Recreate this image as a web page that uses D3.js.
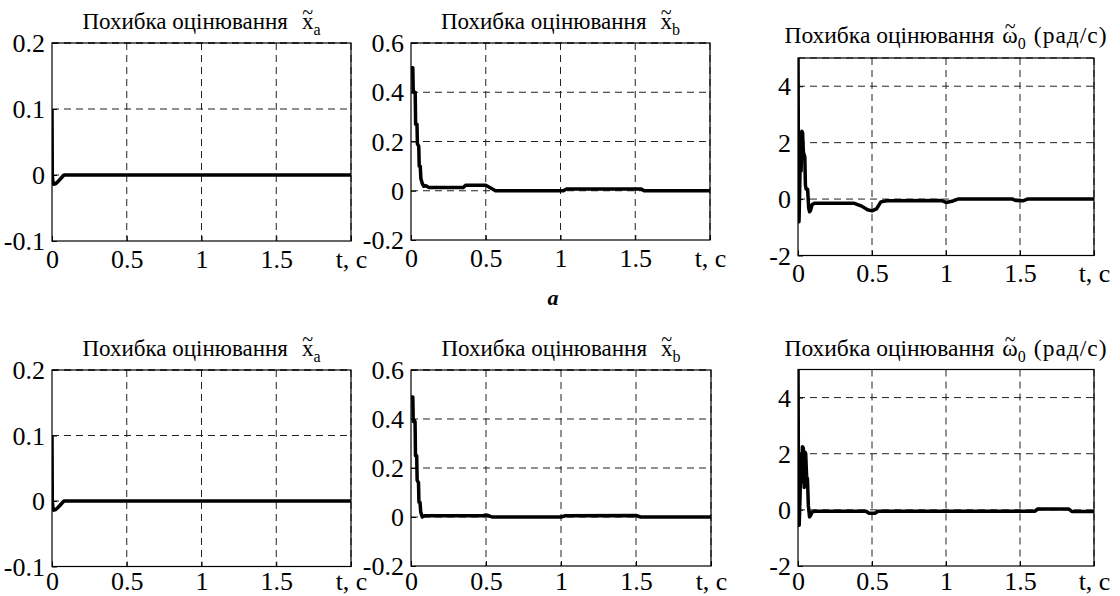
<!DOCTYPE html>
<html><head><meta charset="utf-8">
<script src="https://cdn.jsdelivr.net/npm/d3@7/dist/d3.min.js"></script>
<style>
html,body{margin:0;padding:0;background:#fff;}
svg{display:block;}
</style></head>
<body>
<svg id="c" width="1120" height="596"></svg>
<script>
// ---- data ----
const xTicks = [0, 0.5, 1, 1.5, 2];
const xTickLabels = ["0", "0.5", "1", "1.5", "t, c"];
const yTicksXa = [-0.1, 0, 0.1, 0.2];
const yTicksXb = [-0.2, 0, 0.2, 0.4, 0.6];
const yTicksW = [-2, 0, 2, 4];

// row a: x_a error
const tXa1 = [0, 0.002, 0.006, 0.012, 0.025, 0.04, 0.06, 0.08, 2];
const eXa1 = [0.1, 0.0, -0.01, -0.014, -0.013, -0.01, -0.005, 0, 0];
// row b: x_a error
const tXa2 = [0, 0.002, 0.006, 0.012, 0.025, 0.04, 0.06, 0.08, 2];
const eXa2 = [0.1, 0.0, -0.01, -0.014, -0.013, -0.01, -0.005, 0, 0];

// row a: x_b error
const tXb1 = [0, 0.012, 0.015, 0.028, 0.031, 0.04, 0.043, 0.052, 0.055, 0.062, 0.066, 0.075, 0.085, 0.1, 0.12, 0.35, 0.365, 0.5, 0.53, 0.565, 1.02, 1.04, 1.54, 1.56, 2];
const eXb1 = [0.5, 0.5, 0.4, 0.4, 0.27, 0.27, 0.19, 0.18, 0.1, 0.1, 0.05, 0.03, 0.018, 0.02, 0.013, 0.013, 0.022, 0.022, 0.012, 0, 0, 0.007, 0.007, 0, 0];
// row b: x_b error
const tXb2 = [0, 0.012, 0.015, 0.027, 0.03, 0.038, 0.041, 0.05, 0.053, 0.06, 0.065, 0.075, 0.09, 0.48, 0.5, 0.52, 0.54, 1.0, 1.03, 1.5, 1.53, 2];
const eXb2 = [0.49, 0.49, 0.39, 0.39, 0.25, 0.25, 0.15, 0.14, 0.06, 0.06, 0.02, 0.0, 0.005, 0.005, 0.008, 0.005, 0, 0, 0.005, 0.006, 0, 0];

// row a: omega_0 error
const tW1 = [0, 0.003, 0.007, 0.012, 0.017, 0.021, 0.026, 0.031, 0.036, 0.04, 0.046, 0.05, 0.055, 0.065, 0.072, 0.078, 0.085, 0.095, 0.11, 0.38, 0.43, 0.47, 0.5, 0.53, 0.56, 0.6, 0.97, 1.0, 1.04, 1.08, 1.45, 1.47, 1.52, 1.55, 2];
const eW1 = [5.5, 1.0, -0.8, 0.5, 2.2, 1.0, 2.4, 2.35, 1.7, 1.6, 1.5, 0.5, 0.35, 0.35, -0.3, -0.45, -0.4, -0.2, -0.15, -0.15, -0.25, -0.38, -0.42, -0.35, -0.1, -0.06, -0.05, -0.12, -0.08, 0, 0, -0.05, -0.06, 0, 0];
// row b: omega_0 error
const tW2 = [0, 0.003, 0.008, 0.014, 0.02, 0.025, 0.03, 0.036, 0.042, 0.048, 0.052, 0.058, 0.064, 0.07, 0.078, 0.085, 0.095, 0.11, 0.46, 0.48, 0.52, 0.54, 1.6, 1.62, 1.83, 1.85, 2];
const eW2 = [5.5, 1.0, -0.55, 0.5, 2.0, 1.0, 2.25, 2.2, 0.8, 2.05, 2.0, 1.2, 1.1, 0.15, -0.25, -0.2, -0.08, -0.05, -0.05, -0.12, -0.12, -0.05, -0.05, 0.03, 0.03, -0.06, -0.06];

const titleMain = "Похибка оцінювання";
const sigX = "x", sigW = "ω";
const tildeMark = "~";
const subA = "a", subB = "b", sub0 = "0";
const unitW = "(рад/с)";
const rowLabel = "a";

// ---- layout ----
const FONT = "Liberation Serif";
const panels = [
  {x0:52, x1:351, y0:43, y1:241, dom:[-0.1,0.2], yt:yTicksXa, t:tXa1, v:eXa1, sym:sigX, sub:subA, unit:"", titleY:29, gap:14, tf:23, lab:27},
  {x0:411, x1:710, y0:43, y1:240, dom:[-0.2,0.6], yt:yTicksXb, t:tXb1, v:eXb1, sym:sigX, sub:subB, unit:"", titleY:29, gap:14, tf:23, lab:27},
  {x0:798, x1:1094, y0:58, y1:255.5, dom:[-2,5], yt:yTicksW, t:tW1, v:eW1, sym:sigW, sub:sub0, unit:unitW, titleY:43, gap:8, tf:23.5, lab:26},
  {x0:52, x1:351, y0:370, y1:566.5, dom:[-0.1,0.2], yt:yTicksXa, t:tXa2, v:eXa2, sym:sigX, sub:subA, unit:"", titleY:356, gap:14, tf:23, lab:23},
  {x0:411, x1:711, y0:370, y1:566, dom:[-0.2,0.6], yt:yTicksXb, t:tXb2, v:eXb2, sym:sigX, sub:subB, unit:"", titleY:356, gap:14, tf:23, lab:23.5},
  {x0:798, x1:1094, y0:369.5, y1:566, dom:[-2,5], yt:yTicksW, t:tW2, v:eW2, sym:sigW, sub:sub0, unit:unitW, titleY:356, gap:8, tf:23.5, lab:23.5}
];

const svg = d3.select("#c").attr("font-family", FONT);
const tickFont = 26;

function measure(str, size) {
  const t = svg.append("text").attr("font-size", size).text(str);
  const w = t.node().getComputedTextLength();
  t.remove();
  return w;
}

panels.forEach((p, i) => {
  const x = d3.scaleLinear().domain([0, 2]).range([p.x0, p.x1]);
  const y = d3.scaleLinear().domain(p.dom).range([p.y1, p.y0]);
  const g = svg.append("g");

  const cid = "clip" + i;
  svg.append("clipPath").attr("id", cid).append("rect")
    .attr("x", p.x0).attr("y", p.y0).attr("width", p.x1 - p.x0).attr("height", p.y1 - p.y0);

  // grid
  const grid = g.append("g").attr("stroke", "#222").attr("stroke-width", 1).attr("stroke-dasharray", "7,5");
  grid.selectAll(".gx").data(xTicks.slice(1)).enter().append("line")
    .attr("x1", d => x(d)).attr("x2", d => x(d)).attr("y1", p.y0).attr("y2", p.y1);
  grid.selectAll(".gy").data(p.yt.concat([p.dom[1]]).filter(d => d > p.dom[0])).enter().append("line")
    .attr("y1", d => y(d)).attr("y2", d => y(d)).attr("x1", p.x0).attr("x2", p.x1);

  // axes (ticks inward)
  const ax = g.append("g").attr("transform", `translate(0,${p.y1})`)
    .call(d3.axisBottom(x).tickValues(xTicks).tickSize(-5).tickFormat((d, k) => xTickLabels[k]));
  const ay = g.append("g").attr("transform", `translate(${p.x0},0)`)
    .call(d3.axisLeft(y).tickValues(p.yt).tickSize(-5).tickFormat(d => String(d)));
  [ax, ay].forEach(a => {
    a.attr("font-family", FONT).attr("font-size", tickFont);
    a.select(".domain").remove();
    a.selectAll("line").attr("stroke", "#000");
    a.selectAll("text").attr("fill", "#000");
  });
  ax.selectAll("text").attr("dy", null).attr("y", p.lab);
  ay.selectAll("text").attr("dy", null).attr("x", -7).attr("y", 8.5);

  // curve
  const line = d3.line().x(d => x(d[0])).y(d => y(d[1]));
  g.append("path").datum(p.t.map((t, k) => [t, p.v[k]]))
    .attr("clip-path", `url(#${cid})`)
    .attr("fill", "none").attr("stroke", "#000").attr("stroke-width", 3.5)
    .attr("stroke-linejoin", "round").attr("d", line);

  // frame
  g.append("rect").attr("x", p.x0).attr("y", p.y0).attr("width", p.x1 - p.x0).attr("height", p.y1 - p.y0)
    .attr("fill", "none").attr("stroke", "#000").attr("stroke-width", 1.2);

  // title (tilde placed over the symbol inside the same text)
  const symW = measure(p.sym, p.tf), tilW = measure(tildeMark, 20);
  const cx = (p.x0 + p.x1) / 2;
  const tt = g.append("text").attr("x", cx).attr("y", p.titleY).attr("text-anchor", "middle")
    .attr("font-size", p.tf).attr("fill", "#000");
  tt.append("tspan").text(titleMain);
  tt.append("tspan").attr("dx", p.gap).text(p.sym);
  tt.append("tspan").attr("dx", -(symW + tilW) / 2).attr("dy", -10).attr("font-size", 20).text(tildeMark);
  tt.append("tspan").attr("dx", (symW - tilW) / 2).attr("dy", 16).attr("font-size", 16).text(p.sub);
  if (p.unit) tt.append("tspan").attr("dy", -6).attr("dx", 8).attr("letter-spacing", 1).text(p.unit);
});

svg.append("text").attr("x", 553).attr("y", 305).attr("text-anchor", "middle")
  .attr("font-size", 22).attr("font-weight", "bold").attr("font-style", "italic").text(rowLabel);
</script>
</body></html>
